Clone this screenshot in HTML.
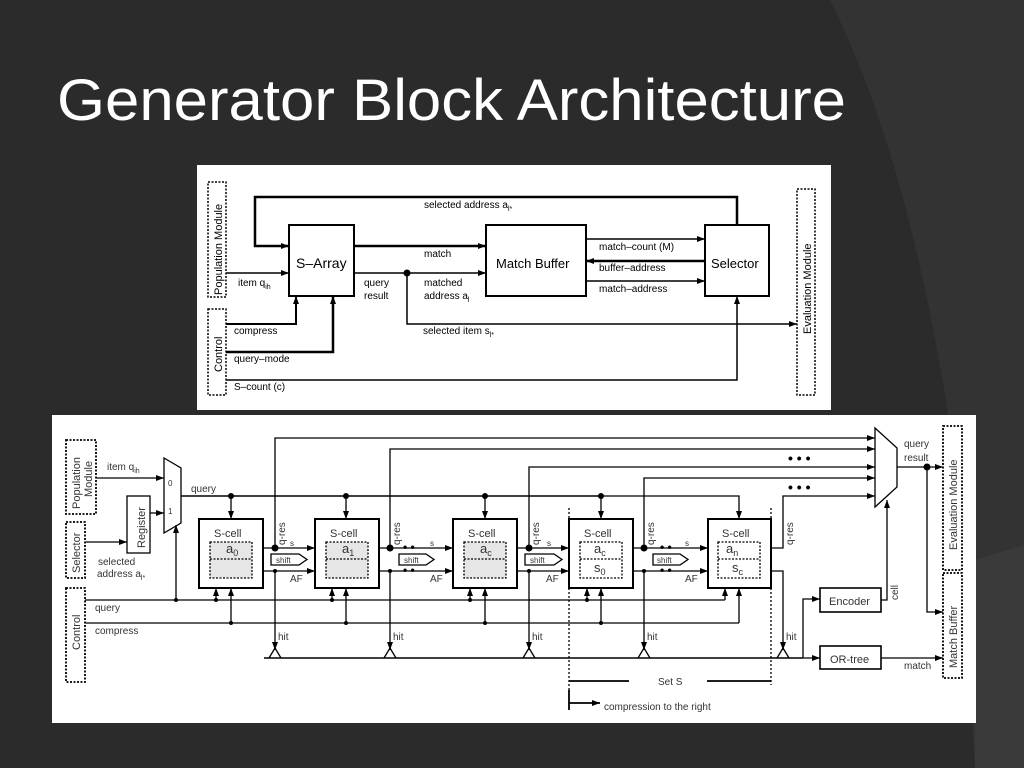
<!DOCTYPE html>
<html><head><meta charset="utf-8"><style>
html,body{margin:0;padding:0;background:#2c2c2c;}
svg{display:block;}
text{font-family:"Liberation Sans",Arial,sans-serif;}
</style></head><body>
<svg width="1024" height="768" viewBox="0 0 1024 768" xmlns="http://www.w3.org/2000/svg">
<defs>
<marker id="a" markerWidth="8" markerHeight="6" refX="8" refY="3" orient="auto" markerUnits="userSpaceOnUse"><path d="M0,0 L8,3 L0,6 z" fill="#000"/></marker>
</defs>
<rect width="1024" height="768" fill="#2b2b2b"/>
<path d="M830,0 Q920,180 960,500 L975,768 L1024,768 L1024,0 z" fill="#333"/>
<path d="M975,560 L1024,545 L1024,768 L975,768 z" fill="#3a3a3a"/>
<text x="57" y="120" font-size="58" fill="#fff" textLength="789" lengthAdjust="spacingAndGlyphs">Generator Block Architecture</text>

<!-- TOP DIAGRAM -->
<rect x="197" y="165" width="634" height="245" fill="#fff"/>
<g stroke="#000" fill="none" stroke-width="1.5">
<rect x="208" y="182" width="18" height="115" stroke-dasharray="2,1.5"/>
<rect x="208" y="309" width="18" height="86" stroke-dasharray="2,1.5"/>
<rect x="797" y="189" width="18" height="206" stroke-dasharray="2,1.5"/>
<rect x="289" y="225" width="65" height="71" stroke-width="2"/>
<rect x="486" y="225" width="100" height="71" stroke-width="2"/>
<rect x="705" y="225" width="64" height="71" stroke-width="2"/>
<polyline points="737,225 737,197 255,197 255,246 289,246" stroke-width="2.5" marker-end="url(#a)"/>
<line x1="226" y1="273" x2="289" y2="273" marker-end="url(#a)"/>
<line x1="354" y1="246" x2="486" y2="246" stroke-width="2.5" marker-end="url(#a)"/>
<line x1="354" y1="273" x2="486" y2="273" marker-end="url(#a)"/>
<line x1="586" y1="239" x2="705" y2="239" marker-end="url(#a)"/>
<line x1="705" y1="261" x2="586" y2="261" stroke-width="2.5" marker-end="url(#a)"/>
<line x1="586" y1="281" x2="705" y2="281" marker-end="url(#a)"/>
<polyline points="407,273 407,324 797,324" marker-end="url(#a)"/>
<polyline points="226,324 296,324 296,296" stroke-width="2" marker-end="url(#a)"/>
<polyline points="226,352 333,352 333,296" stroke-width="2.5" marker-end="url(#a)"/>
<polyline points="226,380 737,380 737,296" marker-end="url(#a)"/>
</g>
<circle cx="407" cy="273" r="3.5"/>
<g font-size="10" fill="#000">
<text x="296" y="268" font-size="14">S–Array</text>
<text x="496" y="268" font-size="13">Match Buffer</text>
<text x="711" y="268" font-size="13">Selector</text>
<text x="424" y="208">selected address a<tspan font-size="7" dy="3">l*</tspan></text>
<text x="238" y="286">item q<tspan font-size="7" dy="3">ih</tspan></text>
<text x="424" y="257">match</text>
<text x="364" y="286">query</text><text x="364" y="299">result</text>
<text x="424" y="286">matched</text><text x="424" y="299">address a<tspan font-size="7" dy="3">l</tspan></text>
<text x="599" y="250">match–count (M)</text>
<text x="599" y="271">buffer–address</text>
<text x="599" y="292">match–address</text>
<text x="423" y="334">selected item s<tspan font-size="7" dy="3">l*</tspan></text>
<text x="234" y="334">compress</text>
<text x="234" y="362">query–mode</text>
<text x="234" y="390">S–count (c)</text>
<text transform="translate(222,295) rotate(-90)" font-size="11">Population Module</text>
<text transform="translate(222,372) rotate(-90)" font-size="11">Control</text>
<text transform="translate(811,334) rotate(-90)" font-size="11">Evaluation Module</text>
</g>

<!-- BOTTOM DIAGRAM -->
<rect x="52" y="415" width="924" height="308" fill="#fff"/>
<g stroke="#000" fill="none" stroke-width="1.3">
<rect x="66" y="440" width="30" height="74" stroke-dasharray="2,1.5" stroke-width="1.8"/>
<rect x="66" y="522" width="19" height="56" stroke-dasharray="2,1.5" stroke-width="1.8"/>
<rect x="66" y="588" width="19" height="94" stroke-dasharray="2,1.5" stroke-width="1.8"/>
<rect x="943" y="426" width="19" height="144" stroke-dasharray="2,1.5" stroke-width="1.8"/>
<rect x="943" y="573" width="19" height="105" stroke-dasharray="2,1.5" stroke-width="1.8"/>
<rect x="127" y="496" width="23" height="57"/>
<polygon points="164,458 181,468 181,523 164,533"/>
<polygon points="875,428 897,448 897,487 875,507"/>
<rect x="820" y="588" width="61" height="24" stroke-width="1.6"/>
<rect x="820" y="646" width="61" height="23" stroke-width="1.6"/>
<line x1="96" y1="478" x2="164" y2="478" marker-end="url(#a)"/>
<line x1="150" y1="513" x2="164" y2="513" marker-end="url(#a)"/>
<line x1="85" y1="542" x2="127" y2="542" marker-end="url(#a)"/>
<line x1="181" y1="496" x2="601" y2="496" stroke-width="1.6"/>
<polyline points="601,496 739,496 739,519" marker-end="url(#a)"/>
<line x1="231" y1="496" x2="231" y2="519" marker-end="url(#a)"/>
<line x1="346" y1="496" x2="346" y2="519" marker-end="url(#a)"/>
<line x1="485" y1="496" x2="485" y2="519" marker-end="url(#a)"/>
<line x1="601" y1="496" x2="601" y2="519" marker-end="url(#a)"/>
<line x1="85" y1="600" x2="725" y2="600"/>
<line x1="85" y1="623" x2="739" y2="623"/>
<line x1="176" y1="600" x2="176" y2="525" marker-end="url(#a)"/>
<polyline points="275,548 275,438 875,438" marker-end="url(#a)"/>
<polyline points="390,548 390,449 875,449" marker-end="url(#a)"/>
<polyline points="529,548 529,467 875,467" marker-end="url(#a)"/>
<polyline points="644,548 644,478 875,478" marker-end="url(#a)"/>
<polyline points="771,548 783,548 783,496 875,496" marker-end="url(#a)"/>
<line x1="897" y1="467" x2="943" y2="467" marker-end="url(#a)"/>
<polyline points="927,467 927,612 943,612" marker-end="url(#a)"/>
<polyline points="881,600 887,600 887,500" marker-end="url(#a)"/>
<line x1="881" y1="658" x2="943" y2="658" marker-end="url(#a)"/>
<line x1="264" y1="658" x2="803" y2="658" stroke-width="1.6"/>
<polyline points="803,658 803,599 820,599" marker-end="url(#a)"/>
<line x1="803" y1="658" x2="820" y2="658" marker-end="url(#a)"/>
<line x1="569" y1="508" x2="569" y2="690" stroke-dasharray="2,2"/>
<line x1="771" y1="508" x2="771" y2="685" stroke-dasharray="2,2"/>
<line x1="569" y1="681" x2="629" y2="681" stroke-width="1.8"/>
<line x1="707" y1="681" x2="771" y2="681" stroke-width="1.8"/>
<line x1="569" y1="690" x2="569" y2="710" stroke-width="1.8"/>
<line x1="569" y1="703" x2="600" y2="703" stroke-width="1.8" marker-end="url(#a)"/>
</g>
<g font-size="10" fill="#000">
<g stroke="#000" fill="none">
<rect x="199" y="519" width="64" height="69" stroke-width="2"/>
<rect x="315" y="519" width="64" height="69" stroke-width="2"/>
<rect x="453" y="519" width="64" height="69" stroke-width="2"/>
<rect x="569" y="519" width="64" height="69" stroke-width="2"/>
<rect x="708" y="519" width="63" height="69" stroke-width="2"/>
</g>
<g stroke="#000" stroke-width="1.3" stroke-dasharray="2,1.5">
<rect x="210" y="542" width="42" height="36" fill="#e6e6e6"/><line x1="210" y1="559" x2="252" y2="559"/>
<rect x="326" y="542" width="42" height="36" fill="#e6e6e6"/><line x1="326" y1="559" x2="368" y2="559"/>
<rect x="464" y="542" width="42" height="36" fill="#e6e6e6"/><line x1="464" y1="559" x2="506" y2="559"/>
<rect x="580" y="542" width="42" height="36" fill="#fff"/><line x1="580" y1="559" x2="622" y2="559"/>
<rect x="718" y="542" width="42" height="36" fill="#fff"/><line x1="718" y1="559" x2="760" y2="559"/>
</g>
<g fill="#333">
<text x="214" y="537" font-size="11">S-cell</text><text x="330" y="537" font-size="11">S-cell</text>
<text x="468" y="537" font-size="11">S-cell</text><text x="584" y="537" font-size="11">S-cell</text>
<text x="722" y="537" font-size="11">S-cell</text>
<text x="226" y="553" font-size="13">a<tspan font-size="9" dy="3">0</tspan></text>
<text x="342" y="553" font-size="13">a<tspan font-size="9" dy="3">1</tspan></text>
<text x="480" y="553" font-size="13">a<tspan font-size="9" dy="3">c</tspan></text>
<text x="594" y="553" font-size="13">a<tspan font-size="9" dy="3">c</tspan></text>
<text x="594" y="572" font-size="13">s<tspan font-size="9" dy="3">0</tspan></text>
<text x="726" y="553" font-size="13">a<tspan font-size="9" dy="3">n</tspan></text>
<text x="732" y="572" font-size="13">s<tspan font-size="9" dy="3">c</tspan></text>
</g>
<g stroke="#000" stroke-width="1.3" fill="none">
<line x1="263" y1="548" x2="315" y2="548" marker-end="url(#a)"/>
<line x1="263" y1="571" x2="315" y2="571" marker-end="url(#a)"/>
<line x1="379" y1="548" x2="453" y2="548" marker-end="url(#a)"/>
<line x1="379" y1="571" x2="453" y2="571" marker-end="url(#a)"/>
<line x1="517" y1="548" x2="569" y2="548" marker-end="url(#a)"/>
<line x1="517" y1="571" x2="569" y2="571" marker-end="url(#a)"/>
<line x1="633" y1="548" x2="708" y2="548" marker-end="url(#a)"/>
<line x1="633" y1="571" x2="708" y2="571" marker-end="url(#a)"/>
<polygon points="271,554 299,554 307,559.5 299,565 271,565" fill="#fff"/>
<polygon points="399,554 426,554 434,559.5 426,565 399,565" fill="#fff"/>
<polygon points="525,554 554,554 562,559.5 554,565 525,565" fill="#fff"/>
<polygon points="653,554 680,554 688,559.5 680,565 653,565" fill="#fff"/>
<line x1="275" y1="571" x2="275" y2="650" marker-end="url(#a)"/>
<line x1="390" y1="571" x2="390" y2="650" marker-end="url(#a)"/>
<line x1="529" y1="571" x2="529" y2="650" marker-end="url(#a)"/>
<line x1="644" y1="571" x2="644" y2="650" marker-end="url(#a)"/>
<polyline points="771,571 783,571 783,650" marker-end="url(#a)"/>
<polyline points="269,658 275,648 281,658"/><polyline points="384,658 390,648 396,658"/>
<polyline points="523,658 529,648 535,658"/><polyline points="638,658 644,648 650,658"/>
<polyline points="777,658 783,648 789,658"/>
<line x1="216" y1="600" x2="216" y2="588" marker-end="url(#a)"/><line x1="231" y1="623" x2="231" y2="588" marker-end="url(#a)"/>
<line x1="332" y1="600" x2="332" y2="588" marker-end="url(#a)"/><line x1="346" y1="623" x2="346" y2="588" marker-end="url(#a)"/>
<line x1="470" y1="600" x2="470" y2="588" marker-end="url(#a)"/><line x1="485" y1="623" x2="485" y2="588" marker-end="url(#a)"/>
<line x1="587" y1="600" x2="587" y2="588" marker-end="url(#a)"/><line x1="601" y1="623" x2="601" y2="588" marker-end="url(#a)"/>
<line x1="725" y1="600" x2="725" y2="588" marker-end="url(#a)"/><line x1="739" y1="623" x2="739" y2="588" marker-end="url(#a)"/>
</g>
<g fill="#000">
<circle cx="231" cy="496" r="3"/><circle cx="346" cy="496" r="3"/><circle cx="485" cy="496" r="3"/><circle cx="601" cy="496" r="3"/>
<circle cx="275" cy="548" r="3.5"/><circle cx="390" cy="548" r="3.5"/><circle cx="529" cy="548" r="3.5"/><circle cx="644" cy="548" r="3.5"/>
<circle cx="275" cy="571" r="2"/><circle cx="390" cy="571" r="2"/><circle cx="529" cy="571" r="2"/><circle cx="644" cy="571" r="2"/>
<circle cx="176" cy="600" r="2"/><circle cx="216" cy="600" r="2"/><circle cx="332" cy="600" r="2"/><circle cx="470" cy="600" r="2"/><circle cx="587" cy="600" r="2"/>
<circle cx="231" cy="623" r="2"/><circle cx="346" cy="623" r="2"/><circle cx="485" cy="623" r="2"/><circle cx="601" cy="623" r="2"/>
<circle cx="927" cy="467" r="3.5"/>
<text x="788" y="463" font-size="14" font-weight="bold">• • •</text>
<text x="788" y="492" font-size="14" font-weight="bold">• • •</text>
<text x="403" y="551" font-size="12" font-weight="bold">• •</text><text x="403" y="574" font-size="12" font-weight="bold">• •</text>
<text x="660" y="551" font-size="12" font-weight="bold">• •</text><text x="660" y="574" font-size="12" font-weight="bold">• •</text>
</g>
<g fill="#333">
<text x="107" y="470">item q<tspan font-size="7" dy="3">ih</tspan></text>
<text x="168" y="486" font-size="8">0</text><text x="168" y="514" font-size="8">1</text>
<text x="191" y="492">query</text>
<text x="98" y="565">selected</text><text x="97" y="577">address a<tspan font-size="7" dy="3">l*</tspan></text>
<text x="95" y="611">query</text><text x="95" y="634">compress</text>
<text x="290" y="546" font-size="8">s</text><text x="430" y="546" font-size="8">s</text><text x="547" y="546" font-size="8">s</text><text x="685" y="546" font-size="8">s</text>
<text x="290" y="582">AF</text><text x="430" y="582">AF</text><text x="546" y="582">AF</text><text x="685" y="582">AF</text>
<text x="278" y="640">hit</text><text x="393" y="640">hit</text><text x="532" y="640">hit</text><text x="647" y="640">hit</text><text x="786" y="640">hit</text>
<text x="276" y="563" font-size="8">shift</text><text x="404" y="563" font-size="8">shift</text><text x="530" y="563" font-size="8">shift</text><text x="657" y="563" font-size="8">shift</text>
<text x="904" y="447">query</text><text x="904" y="461">result</text>
<text x="829" y="605" font-size="11">Encoder</text>
<text x="830" y="663" font-size="11">OR-tree</text>
<text x="904" y="669">match</text>
<text x="658" y="685">Set S</text>
<text x="604" y="710">compression to the right</text>
<text transform="translate(285,545) rotate(-90)">q-res</text>
<text transform="translate(400,545) rotate(-90)">q-res</text>
<text transform="translate(539,545) rotate(-90)">q-res</text>
<text transform="translate(654,545) rotate(-90)">q-res</text>
<text transform="translate(793,545) rotate(-90)">q-res</text>
<text transform="translate(898,600) rotate(-90)">cell</text>
<text transform="translate(145,548) rotate(-90)" font-size="11">Register</text>
<text transform="translate(80,509) rotate(-90)" font-size="11">Population</text>
<text transform="translate(92,497) rotate(-90)" font-size="11">Module</text>
<text transform="translate(80,573) rotate(-90)" font-size="11">Selector</text>
<text transform="translate(80,650) rotate(-90)" font-size="11">Control</text>
<text transform="translate(957,550) rotate(-90)" font-size="11">Evaluation Module</text>
<text transform="translate(957,668) rotate(-90)" font-size="11">Match Buffer</text>
</g>
</g>
</svg>
</body></html>
